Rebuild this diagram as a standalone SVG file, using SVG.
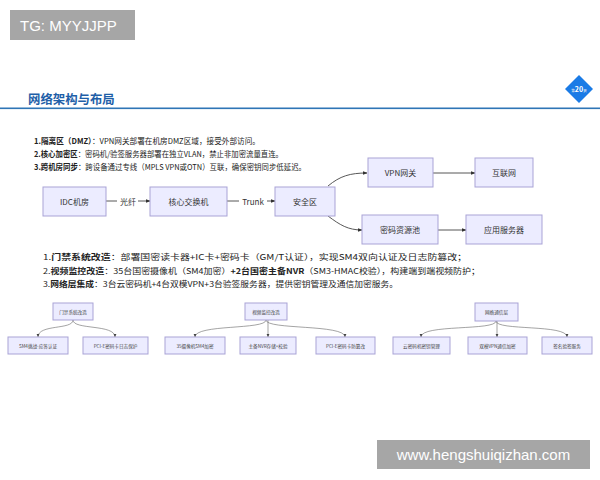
<svg xmlns="http://www.w3.org/2000/svg" width="600" height="480" viewBox="0 0 600 480">
<defs>
<style>
text{font-family:"Noto Sans CJK SC","Noto Sans",sans-serif;}
.wm{fill:#a6a6a6;}
.wmt{fill:#fff;font-size:15px;font-family:"Liberation Sans","Noto Sans CJK SC",sans-serif;}
.p{font-size:8px;fill:#222;}
.b{font-weight:bold;}
.n{fill:#ececff;stroke:#a9a3d6;stroke-width:1;}
.nt{font-size:8px;fill:#333;text-anchor:middle;dominant-baseline:central;}
.st{font-size:4.6px;fill:#444;text-anchor:middle;dominant-baseline:central;}
.e{fill:none;stroke:#444;stroke-width:0.9;}
.e2{fill:none;stroke:#666;stroke-width:0.6;}
.el{font-size:8px;fill:#333;text-anchor:middle;dominant-baseline:central;}
</style>
<marker id="ah" viewBox="0 0 10 10" refX="9" refY="5" markerWidth="5" markerHeight="5" orient="auto"><path d="M0,1 L10,5 L0,9 z" fill="#333"/></marker>
<marker id="ah2" viewBox="0 0 10 10" refX="9" refY="5" markerWidth="6" markerHeight="6" orient="auto"><path d="M0,1 L10,5 L0,9 z" fill="#444"/></marker>
</defs>
<rect width="600" height="480" fill="#fff"/>

<g id="watermark-top">
<rect class="wm" x="10" y="10" width="125" height="30"/>
<text class="wmt" x="20" y="31">TG: MYYJJPP</text>
</g>

<g id="header">
<text x="28" y="104" font-size="12.4" font-weight="bold" fill="#1f5fa8">网络架构与布局</text>
<rect x="0" y="107.5" width="600" height="1.6" fill="#2e75b6"/>
<path d="M579,75 L593,89 L579,103 L565,89 z" fill="#1a7be6"/>
<text x="579" y="91.5" text-anchor="middle" font-size="7" fill="#fff" font-weight="bold"><tspan font-size="3.5" fill="#cde">第</tspan>20<tspan font-size="3.5" fill="#cde">页</tspan></text>
</g>

<g id="para1">
<text class="p" x="34" y="144" textLength="226" lengthAdjust="spacingAndGlyphs"><tspan class="b">1.隔离区（DMZ）</tspan>：VPN网关部署在机房DMZ区域，接受外部访问。</text>
<text class="p" x="34" y="157" textLength="249" lengthAdjust="spacingAndGlyphs"><tspan class="b">2.核心加密区</tspan>：密码机/验签服务器部署在独立VLAN，禁止非加密流量直连。</text>
<text class="p" x="34" y="170" textLength="272" lengthAdjust="spacingAndGlyphs"><tspan class="b">3.跨机房同步</tspan>：跨设备通过专线（MPLS VPN或OTN）互联，确保密钥同步低延迟。</text>
</g>

<g id="connectors">
<path class="e" d="M106,201 L150,201" marker-end="url(#ah)"/>
<rect x="117" y="195" width="21" height="12" fill="#fff"/>
<text class="el" x="128" y="201">光纤</text>
<path class="e" d="M227,201 L275,201" marker-end="url(#ah)"/>
<rect x="239" y="195" width="28" height="12" fill="#fff"/>
<text class="el" x="253" y="201">Trunk</text>
<path class="e" d="M328,186 C340,176 350,173 367,173" marker-end="url(#ah)"/>
<path class="e" d="M433,173 L475,173" marker-end="url(#ah)"/>
<path class="e" d="M328,216 C340,225 348,230 362,230" marker-end="url(#ah)"/>
<path class="e" d="M438,230 L466,230" marker-end="url(#ah)"/>

<path class="e2" d="M73,320 C73,330 38,324 38,337" marker-end="url(#ah2)"/>
<path class="e2" d="M73,320 C73,330 115,324 115,337" marker-end="url(#ah2)"/>
<path class="e2" d="M266,320 C266,330 195,324 195,337" marker-end="url(#ah2)"/>
<path class="e2" d="M268,320 L268,337" marker-end="url(#ah2)"/>
<path class="e2" d="M266,320 C266,330 345,324 345,337" marker-end="url(#ah2)"/>
<path class="e2" d="M496,321 C496,331 421,324 421,337" marker-end="url(#ah2)"/>
<path class="e2" d="M497,321 L497,337" marker-end="url(#ah2)"/>
<path class="e2" d="M496,321 C496,331 567,324 567,337" marker-end="url(#ah2)"/>
</g>

<g id="idc"><rect class="n" x="43" y="187" width="63" height="29"/><text class="nt" x="74.5" y="201.5">IDC机房</text></g>
<g id="core"><rect class="n" x="150" y="187" width="77" height="29"/><text class="nt" x="188.5" y="201.5">核心交换机</text></g>
<g id="sec"><rect class="n" x="275" y="187" width="60" height="29"/><text class="nt" x="305" y="201.5">安全区</text></g>
<g id="vpn"><rect class="n" x="368" y="158" width="65" height="29"/><text class="nt" x="400.5" y="172.5">VPN网关</text></g>
<g id="inet"><rect class="n" x="475" y="158" width="58" height="29"/><text class="nt" x="504" y="172.5">互联网</text></g>
<g id="pool"><rect class="n" x="362" y="215" width="76" height="29"/><text class="nt" x="400" y="229.5">密码资源池</text></g>
<g id="app"><rect class="n" x="466" y="215" width="76" height="29"/><text class="nt" x="504" y="229.5">应用服务器</text></g>

<g id="para2">
<text class="p" x="43" y="260" textLength="424" lengthAdjust="spacingAndGlyphs">1.<tspan class="b">门禁系统改造</tspan>：部署国密读卡器+IC卡+密码卡（GM/T认证），实现SM4双向认证及日志防篡改；</text>
<text class="p" x="43" y="273.5" textLength="437" lengthAdjust="spacingAndGlyphs">2.<tspan class="b">视频监控改造</tspan>：35台国密摄像机（SM4加密）<tspan class="b">+2台国密主备NVR</tspan>（SM3-HMAC校验），构建端到端视频防护；</text>
<text class="p" x="43" y="287" textLength="355" lengthAdjust="spacingAndGlyphs">3.<tspan class="b">网络层集成</tspan>：3台云密码机+4台双模VPN+3台验签服务器，提供密钥管理及通信加密服务。</text>
</g>

<g id="t1root"><rect class="n" x="53" y="303" width="40" height="17"/><text class="st" x="73" y="311.5">门禁系统改造</text></g>
<g id="t1c1"><rect class="n" x="8" y="337" width="60" height="17"/><text class="st" x="38" y="345.5">SM4挑战-应答认证</text></g>
<g id="t1c2"><rect class="n" x="83" y="337" width="65" height="17"/><text class="st" x="115.5" y="345.5">PCI-E密码卡日志保护</text></g>

<g id="t2root"><rect class="n" x="245" y="303" width="42" height="17"/><text class="st" x="266" y="311.5">视频监控改造</text></g>
<g id="t2c1"><rect class="n" x="165" y="337" width="60" height="17"/><text class="st" x="195" y="345.5">35摄像机SM4加密</text></g>
<g id="t2c2"><rect class="n" x="240" y="337" width="56" height="17"/><text class="st" x="268" y="345.5">主备NVR存储+校验</text></g>
<g id="t2c3"><rect class="n" x="316" y="337" width="59" height="17"/><text class="st" x="345.5" y="345.5">PCI-E密码卡防篡改</text></g>

<g id="t3root"><rect class="n" x="475" y="303" width="43" height="18"/><text class="st" x="496.5" y="312">网络通信层</text></g>
<g id="t3c1"><rect class="n" x="393" y="337" width="57" height="17"/><text class="st" x="421.5" y="345.5">云密码机密钥管理</text></g>
<g id="t3c2"><rect class="n" x="468" y="337" width="59" height="17"/><text class="st" x="497.5" y="345.5">双模VPN通信加密</text></g>
<g id="t3c3"><rect class="n" x="542" y="337" width="50" height="17"/><text class="st" x="567" y="345.5">签名验签服务</text></g>

<g id="watermark-bottom">
<rect class="wm" x="377" y="440" width="213" height="29"/>
<text class="wmt" x="483.5" y="460" text-anchor="middle">www.hengshuiqizhan.com</text>
</g>
</svg>
